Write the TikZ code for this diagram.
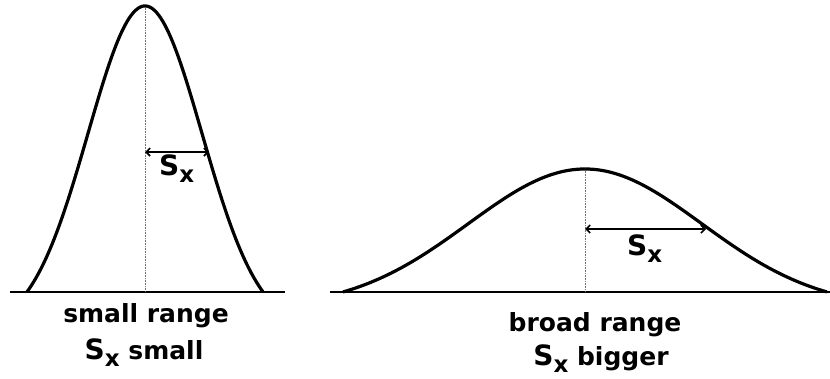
\documentclass[tikz,border=0pt]{standalone}
\usepackage{fontspec}
\setmainfont{DejaVu Sans}
\usepackage{tikz}
\usetikzlibrary{arrows.meta, positioning, calc}
\tikzstyle{curve} = [line width=3.2pt, line join=round]
\tikzstyle{axis} = [line width=2pt]
\tikzstyle{centreline} = [densely dotted, line width=0.6pt, black!55]
\tikzstyle{spread} = [line width=1.6pt, {Straight Barb[length=4pt,width=8pt]}-{Straight Barb[length=4pt,width=8pt]}]
\tikzstyle{caption} = [font=\fontsize{25}{25}\selectfont\bfseries, inner sep=0pt, anchor=base]
\newcommand{\sx}{{\fontsize{28}{28}\selectfont S}\raisebox{-7pt}{\fontsize{23}{23}\selectfont x}}

\begin{document}
\begin{tikzpicture}[x=1pt, y=-1pt]
    \useasboundingbox (0,0) rectangle (830,378);

    % narrow curve
    \coordinate (lbase w) at (10,292);
    \coordinate (lbase e) at (285,292);
    \coordinate (ltop) at (145,6);
    \coordinate (lfoot) at (145,292);
    \coordinate (lmid) at (145,152);
    \coordinate (ledge) at (209,152);
    \draw [axis] (lbase w) -- (lbase e);
    \draw [centreline] (ltop) -- (lfoot);
    \draw [curve] plot[domain=-1:1, samples=121, smooth] ({145+118*\x}, {292-286*(exp(-(\x)^2/0.4666)-0.117)/0.883});
    \draw [spread] (lmid) -- (ledge);
    \node (lsx) [caption, anchor=base west] at (159,175) {\sx};
    \node (lcap1) [caption] at (146,322) {small range};
    \node (lcap2) [caption] at (144,359) {\sx{} small};

    % broad curve
    \coordinate (rbase w) at (330,292);
    \coordinate (rbase e) at (830,292);
    \coordinate (rtop) at (585,169);
    \coordinate (rfoot) at (585,292);
    \coordinate (rmid) at (585,229);
    \coordinate (redge) at (706,229);
    \draw [axis] (rbase w) -- (rbase e);
    \draw [centreline] (rtop) -- (rfoot);
    \draw [curve] plot[domain=-1:1, samples=121, smooth] ({585+242*\x}, {292-123*(exp(-(\x)^2/0.4666)-0.117)/0.883});
    \draw [spread] (rmid) -- (redge);
    \node (rsx) [caption, anchor=base west] at (627,255) {\sx};
    \node (rcap1) [caption] at (595,331) {broad range};
    \node (rcap2) [caption] at (601,365) {\sx{} bigger};
\end{tikzpicture}
\end{document}
